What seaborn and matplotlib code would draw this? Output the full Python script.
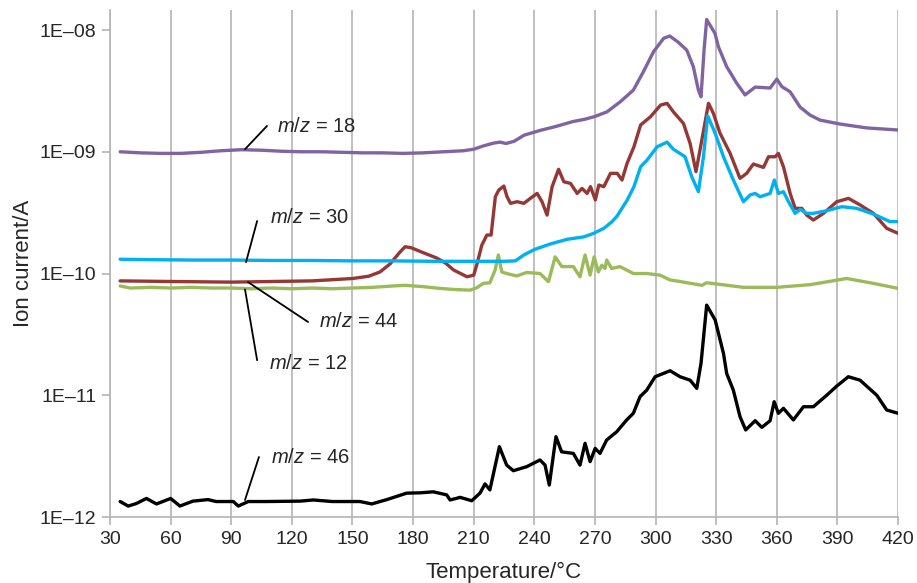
import matplotlib
matplotlib.use('Agg')
import matplotlib.pyplot as plt
import seaborn as sns
from matplotlib.ticker import FixedLocator, FixedFormatter, NullLocator

# Temperature (°C) and ion current (A)
t_18 = [35, 45, 55, 65, 75, 85, 95, 105, 115, 125, 135, 145, 155, 165, 175, 185, 195, 205,
        210, 215, 220, 223, 226, 230, 235, 243, 251, 259, 265, 270, 276, 282.6, 289, 294,
        299, 304, 307, 311, 315.4, 318.7, 321.2, 322.5, 324, 325.3, 326.9, 329.4, 331.1,
        335.2, 340.2, 344.3, 349.3, 356.7, 360, 362.5, 366.6, 371.5, 376.5, 381.4, 391.3,
        404.5, 420]
i_18 = [1.0e-9, 0.98e-9, 0.97e-9, 0.97e-9, 0.99e-9, 1.02e-9, 1.04e-9, 1.03e-9, 1.01e-9,
        1.0e-9, 1.0e-9, 0.99e-9, 0.98e-9, 0.98e-9, 0.97e-9, 0.98e-9, 1.0e-9, 1.02e-9,
        1.05e-9, 1.12e-9, 1.18e-9, 1.2e-9, 1.17e-9, 1.22e-9, 1.37e-9, 1.5e-9, 1.62e-9,
        1.77e-9, 1.85e-9, 1.95e-9, 2.13e-9, 2.58e-9, 3.21e-9, 4.55e-9, 6.64e-9, 8.55e-9,
        8.93e-9, 8.0e-9, 6.85e-9, 5.0e-9, 3.21e-9, 2.83e-9, 6.85e-9, 1.22e-8, 1.1e-8,
        9.4e-9, 7.3e-9, 5.0e-9, 3.65e-9, 2.93e-9, 3.4e-9, 3.34e-9, 3.95e-9, 3.43e-9,
        3.11e-9, 2.33e-9, 2.0e-9, 1.82e-9, 1.69e-9, 1.57e-9, 1.51e-9]

t_44 = [35, 60, 90, 110, 130, 150, 158, 163.6, 168.6, 173.5, 176, 179, 183.4, 191.7, 196,
        200, 206.7, 210, 211.7, 214, 216.5, 218.6, 220.7, 222.4, 224.9, 226.5, 228.2, 231.5,
        234.8, 238, 241.4, 243.8, 246.3, 248.8, 252, 254.6, 257.9, 261.2, 263.6, 266.1,
        267.8, 270.2, 271.9, 274.4, 277.7, 281, 283.4, 285.9, 289.3, 292.6, 297.5, 302.5,
        305.7, 308.8, 313.8, 317.1, 320, 322.9, 326.2, 328.6, 331.9, 336.9, 341.8, 345.1,
        348.4, 353.4, 355.9, 359.2, 360.8, 363.3, 366.6, 369.1, 372.4, 374.8, 378.1, 383.1,
        389.7, 395.5, 401.2, 407.8, 414.4, 420]
i_44 = [8.7e-11, 8.6e-11, 8.5e-11, 8.6e-11, 8.7e-11, 9.1e-11, 9.5e-11, 1.03e-10, 1.2e-10,
        1.5e-10, 1.66e-10, 1.63e-10, 1.52e-10, 1.34e-10, 1.22e-10, 1.07e-10, 9.4e-11,
        9.7e-11, 1.21e-10, 1.71e-10, 2.07e-10, 2.07e-10, 4.27e-10, 4.85e-10, 5.23e-10,
        4.27e-10, 3.77e-10, 3.89e-10, 3.77e-10, 4.14e-10, 4.55e-10, 3.89e-10, 3.02e-10,
        5.17e-10, 7.18e-10, 5.67e-10, 5.5e-10, 4.55e-10, 5.0e-10, 4.55e-10, 5.17e-10,
        4.02e-10, 5.33e-10, 5.17e-10, 6.65e-10, 6.65e-10, 5.86e-10, 8.04e-10, 1.10e-9,
        1.66e-9, 1.94e-9, 2.42e-9, 2.5e-9, 2.13e-9, 1.71e-9, 1.17e-9, 6.86e-10, 1.25e-9,
        2.5e-9, 2.07e-9, 1.42e-9, 9.7e-10, 6.05e-10, 6.65e-10, 7.93e-10, 7.44e-10, 9.1e-10,
        9.1e-10, 9.7e-10, 7.53e-10, 4.55e-10, 3.43e-10, 3.43e-10, 3.02e-10, 2.75e-10,
        3.12e-10, 3.89e-10, 4.14e-10, 3.66e-10, 3.12e-10, 2.35e-10, 2.14e-10]

t_30 = [35, 50, 70, 90, 110, 130, 150, 170, 190, 210, 225, 230.6, 234.8, 240.2, 248, 256.2,
        264.5, 269.4, 274.4, 278.5, 281, 286, 289.3, 292.6, 295.8, 300.8, 305.7, 308.8, 312,
        314.6, 317.9, 321.2, 323.7, 325.8, 329.5, 333.6, 338.5, 343.5, 346.8, 349.3, 351.7,
        356.7, 358.8, 360.8, 363.3, 365.8, 369.1, 371.6, 374.8, 378.1, 384.7, 392.2, 399.6,
        407.8, 416, 420]
i_30 = [1.31e-10, 1.30e-10, 1.29e-10, 1.29e-10, 1.28e-10, 1.28e-10, 1.27e-10, 1.27e-10,
        1.26e-10, 1.26e-10, 1.26e-10, 1.27e-10, 1.42e-10, 1.58e-10, 1.75e-10, 1.91e-10,
        2.0e-10, 2.14e-10, 2.35e-10, 2.67e-10, 2.97e-10, 4.02e-10, 5.17e-10, 7.53e-10,
        8.55e-10, 1.10e-9, 1.2e-9, 1.05e-9, 9.7e-10, 9.1e-10, 6.24e-10, 4.7e-10, 9.1e-10,
        1.97e-9, 1.42e-9, 9.1e-10, 5.86e-10, 3.89e-10, 4.42e-10, 4.55e-10, 4.27e-10,
        4.55e-10, 5.86e-10, 4.55e-10, 4.7e-10, 3.89e-10, 3.12e-10, 3.37e-10, 3.12e-10,
        3.12e-10, 3.28e-10, 3.54e-10, 3.43e-10, 3.08e-10, 2.67e-10, 2.67e-10]

t_12 = [35, 40, 50, 60, 70, 80, 90, 100, 110, 120, 130, 140, 150, 160, 170, 176, 185, 193.3,
        200, 208.2, 211.5, 214.8, 218, 220.6, 222.2, 223.9, 226.3, 231.3, 236.2, 242.8, 247,
        250.3, 253.6, 259.3, 262.6, 265.1, 267.6, 269.6, 271.7, 273.4, 275, 275.8, 278.3,
        282.4, 289, 295.6, 302.2, 307.2, 312.1, 322.9, 325.3, 343.5, 360, 376.5, 394.6,
        407.8, 420]
i_12 = [7.9e-11, 7.6e-11, 7.7e-11, 7.6e-11, 7.7e-11, 7.6e-11, 7.6e-11, 7.5e-11, 7.6e-11,
        7.5e-11, 7.6e-11, 7.5e-11, 7.6e-11, 7.7e-11, 7.9e-11, 8.0e-11, 7.8e-11, 7.55e-11,
        7.4e-11, 7.3e-11, 7.64e-11, 8.3e-11, 8.4e-11, 1.07e-10, 1.42e-10, 1.03e-10, 1.0e-10,
        9.55e-11, 1.02e-10, 1.0e-10, 8.57e-11, 1.37e-10, 1.14e-10, 1.14e-10, 9.4e-11,
        1.42e-10, 9.7e-11, 1.37e-10, 1.03e-10, 1.17e-10, 1.10e-10, 1.29e-10, 1.10e-10,
        1.14e-10, 1.0e-10, 1.0e-10, 9.7e-11, 8.85e-11, 8.6e-11, 8.0e-11, 8.4e-11, 7.7e-11,
        7.7e-11, 8.1e-11, 9.1e-11, 8.3e-11, 7.55e-11]

t_46 = [35, 39, 43, 48, 53, 60, 64.6, 71, 78.5, 82.5, 91, 93.5, 98.4, 107.5, 124, 130.6,
        140, 153.7, 159.5, 167, 176.8, 183.4, 190, 196.6, 198.3, 203.3, 209, 213.1, 215.6,
        218, 222.7, 226.3, 229.6, 236.2, 242.8, 245.3, 247.4, 250.7, 253.5, 259.3, 262.6,
        265.1, 267.6, 270.1, 272.5, 275.8, 280.8, 285.7, 289, 292.3, 295.6, 299.8, 307.2,
        312.1, 317.1, 320.4, 322.5, 325.3, 329.5, 333.6, 335.2, 338.5, 341.8, 344.6, 349.3,
        352.6, 356.7, 358.7, 360.8, 363.3, 368.2, 373.2, 378.1, 384.7, 389.7, 395.4, 401.2,
        409.5, 414.4, 420]
i_46 = [1.34e-12, 1.23e-12, 1.29e-12, 1.42e-12, 1.28e-12, 1.42e-12, 1.23e-12, 1.35e-12,
        1.39e-12, 1.34e-12, 1.34e-12, 1.23e-12, 1.34e-12, 1.34e-12, 1.35e-12, 1.38e-12,
        1.34e-12, 1.34e-12, 1.28e-12, 1.39e-12, 1.57e-12, 1.58e-12, 1.61e-12, 1.52e-12,
        1.38e-12, 1.45e-12, 1.36e-12, 1.57e-12, 1.87e-12, 1.67e-12, 3.78e-12, 2.67e-12,
        2.4e-12, 2.59e-12, 2.94e-12, 2.67e-12, 1.83e-12, 4.57e-12, 3.43e-12, 3.33e-12,
        2.67e-12, 4.03e-12, 2.85e-12, 3.66e-12, 3.33e-12, 4.29e-12, 5.02e-12, 6.27e-12,
        7.11e-12, 9.73e-12, 1.10e-11, 1.42e-11, 1.59e-11, 1.42e-11, 1.33e-11, 1.14e-11,
        1.83e-11, 5.5e-11, 4.15e-11, 2.21e-11, 1.51e-11, 1.10e-11, 6.67e-12, 5.19e-12,
        6.18e-12, 5.45e-12, 6.18e-12, 8.85e-12, 7.11e-12, 7.81e-12, 6.27e-12, 8.05e-12,
        8.05e-12, 1.0e-11, 1.19e-11, 1.42e-11, 1.33e-11, 1.0e-11, 7.57e-12, 7.11e-12]

x_ticks = [30, 60, 90, 120, 150, 180, 210, 240, 270, 300, 330, 360, 390, 420]
y_ticks = [1e-12, 1e-11, 1e-10, 1e-9, 1e-8]
y_tick_labels = ['1E\u201312', '1E\u201311', '1E\u201310', '1E\u201309', '1E\u201308']

sns.set_style('white')
plt.rcParams['font.family'] = ['Liberation Sans', 'DejaVu Sans']
plt.rcParams['mathtext.fontset'] = 'custom'
plt.rcParams['mathtext.rm'] = 'Liberation Sans'
plt.rcParams['mathtext.it'] = 'Liberation Sans:italic'

fig = plt.figure(figsize=(9.17, 5.83), dpi=100)
ax = fig.add_axes([0.12, 0.1132, 0.8593, 0.8696])

grid_col = '#b4b4b4'
for x in x_ticks:
    ax.axvline(x, color=grid_col, lw=1.2, zorder=0)

series = [
    (t_12, i_12, '#9bbb59'),
    (t_44, i_44, '#953735'),
    (t_30, i_30, '#00b0f0'),
    (t_18, i_18, '#8064a2'),
    (t_46, i_46, '#000000'),
]
for t, i, col in series:
    sns.lineplot(x=t, y=i, color=col, lw=2.4, ax=ax, zorder=3)

ax.set_yscale('log')
ax.set_xlim(30, 420)
ax.set_ylim(1e-12, 1.46e-8)
ax.xaxis.set_major_locator(FixedLocator(x_ticks))
ax.yaxis.set_major_locator(FixedLocator(y_ticks))
ax.yaxis.set_major_formatter(FixedFormatter(y_tick_labels))
ax.yaxis.set_minor_locator(NullLocator())
ax.tick_params(axis='both', labelsize=14, length=6, width=1.2, color=grid_col,
               direction='out', left=True, bottom=True, pad=4)

for side in ['top', 'right']:
    ax.spines[side].set_visible(False)
for side in ['left', 'bottom']:
    ax.spines[side].set_color(grid_col)
    ax.spines[side].set_linewidth(1.2)

ax.set_xlabel('Temperature/\u00b0C', fontsize=16, labelpad=10)
ax.set_ylabel('Ion current/A', fontsize=16, labelpad=4)

# Leader lines and labels
notes = [
    ('$m/z$ = 18', (96.8, 1.05e-9), (107.7, 1.63e-9), (112.7, 1.6e-9)),
    ('$m/z$ = 30', (97.3, 1.24e-10), (102.8, 2.7e-10), (109.2, 2.86e-10)),
    ('$m/z$ = 44', (98.3, 8.5e-11), (128.0, 4.0e-11), (133.4, 4.0e-11)),
    ('$m/z$ = 12', (96.8, 7.4e-11), (102.8, 1.94e-11), (108.7, 1.84e-11)),
    ('$m/z$ = 46', (96.8, 1.38e-12), (103.7, 3.11e-12), (109.7, 3.07e-12)),
]
for label, p0, p1, ptxt in notes:
    ax.plot([p0[0], p1[0]], [p0[1], p1[1]], color='black', lw=1.3, zorder=4)
    ax.text(ptxt[0], ptxt[1], label, fontsize=14.5, ha='left', va='center', zorder=5)

fig.savefig('out.png', dpi=100)
